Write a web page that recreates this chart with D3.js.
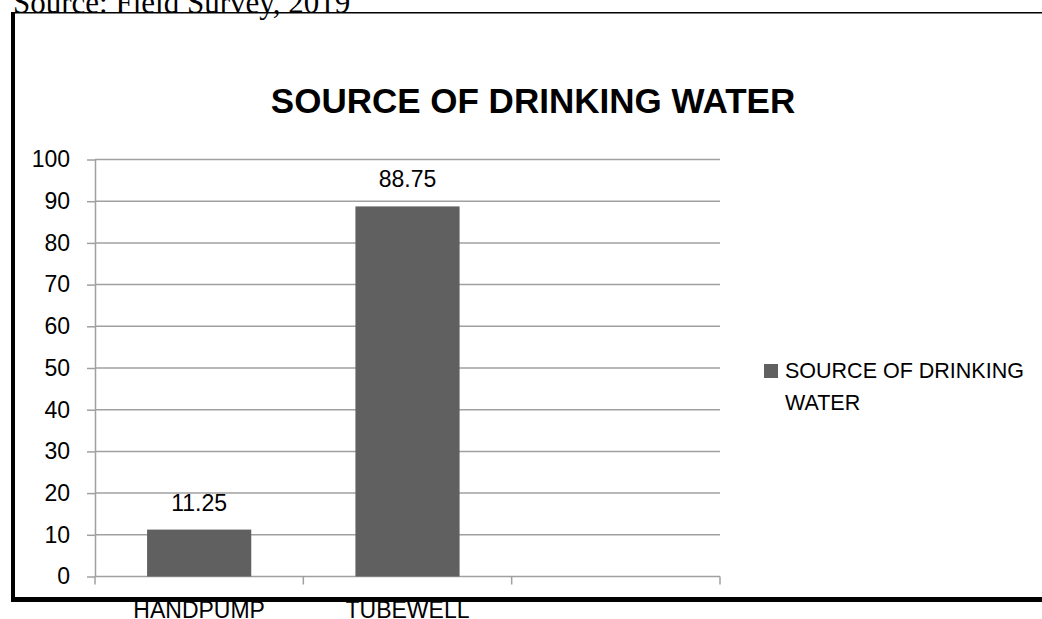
<!DOCTYPE html>
<html>
<head>
<meta charset="utf-8">
<script src="https://cdn.jsdelivr.net/npm/d3@7/dist/d3.min.js"></script>
<style>
  html, body { margin: 0; padding: 0; background: #fff; }
  svg { display: block; }
</style>
</head>
<body>
<svg id="chart" width="1042" height="619"></svg>
<script>
// Chart data
const categories = ["HANDPUMP", "TUBEWELL", ""];
const values = [11.25, 88.75, null];
const yTicks = [0, 10, 20, 30, 40, 50, 60, 70, 80, 90, 100];
const title = "SOURCE OF DRINKING WATER";
const legendLines = ["SOURCE OF DRINKING", "WATER"];
const sourceNote = "Source: Field Survey, 2019";

const svg = d3.select("#chart");
const sans = "'Liberation Sans', Arial, sans-serif";
const barColor = "#606060";
const gridColor = "#a0a0a0";

const plot = { left: 95, right: 720, top: 159.5, bottom: 576.5 };

const x = d3.scaleBand()
  .domain(categories)
  .range([plot.left, plot.right])
  .paddingInner(0.5)
  .paddingOuter(0.25);

const y = d3.scaleLinear()
  .domain([0, 100])
  .range([plot.bottom, plot.top]);

// Source note (partly cut by the top edge)
svg.append("text")
  .attr("x", 13).attr("y", 13)
  .attr("font-family", "'Liberation Serif', 'Times New Roman', serif")
  .attr("font-size", 31)
  .attr("fill", "#000")
  .text(sourceNote);

// Frame around the chart
svg.append("line")
  .attr("x1", 11).attr("x2", 1042).attr("y1", 12.75).attr("y2", 12.75)
  .attr("stroke", "#000").attr("stroke-width", 1.5);
svg.append("line")
  .attr("x1", 13).attr("x2", 13).attr("y1", 12).attr("y2", 602)
  .attr("stroke", "#000").attr("stroke-width", 4);
svg.append("line")
  .attr("x1", 11).attr("x2", 1042).attr("y1", 599.5).attr("y2", 599.5)
  .attr("stroke", "#000").attr("stroke-width", 5);

// Title
svg.append("text")
  .attr("x", 533).attr("y", 113)
  .attr("text-anchor", "middle")
  .attr("font-family", sans)
  .attr("font-weight", "bold")
  .attr("font-size", 35)
  .attr("fill", "#000")
  .text(title);

// Horizontal gridlines
svg.append("g")
  .selectAll("line")
  .data(yTicks.filter(d => d > 0))
  .join("line")
  .attr("x1", plot.left).attr("x2", plot.right)
  .attr("y1", d => y(d)).attr("y2", d => y(d))
  .attr("stroke", gridColor).attr("stroke-width", 1.5);

// Y axis
const yAxis = svg.append("g")
  .attr("transform", `translate(${plot.left},0)`)
  .call(d3.axisLeft(y).tickValues(yTicks).tickSize(8).tickPadding(17).tickSizeOuter(0));
yAxis.select(".domain").attr("stroke", gridColor).attr("stroke-width", 1.5);
yAxis.selectAll(".tick line").attr("stroke", gridColor).attr("stroke-width", 1.5);
yAxis.selectAll(".tick text")
  .attr("font-family", sans).attr("font-size", 23).attr("fill", "#000");

// X axis baseline with ticks on the category boundaries
const bounds = d3.range(categories.length + 1).map(i => x.range()[0] + i * x.step());
const xg = svg.append("g");
xg.append("line")
  .attr("x1", plot.left).attr("x2", plot.right)
  .attr("y1", y(0)).attr("y2", y(0))
  .attr("stroke", gridColor).attr("stroke-width", 1.5);
xg.selectAll("line.tick")
  .data(bounds)
  .join("line")
  .attr("class", "tick")
  .attr("x1", d => d).attr("x2", d => d)
  .attr("y1", y(0)).attr("y2", y(0) + 8)
  .attr("stroke", gridColor).attr("stroke-width", 1.5);

// Category labels
svg.append("g")
  .selectAll("text")
  .data(categories)
  .join("text")
  .attr("x", d => x(d) + x.bandwidth() / 2)
  .attr("y", 618)
  .attr("text-anchor", "middle")
  .attr("font-family", sans).attr("font-size", 23).attr("fill", "#000")
  .text(d => d);

// Bars
const barData = categories.map((c, i) => ({ c, v: values[i] })).filter(d => d.v != null);
svg.append("g")
  .selectAll("rect")
  .data(barData)
  .join("rect")
  .attr("x", d => x(d.c))
  .attr("width", x.bandwidth())
  .attr("y", d => y(d.v))
  .attr("height", d => y(0) - y(d.v))
  .attr("fill", barColor);

// Value labels
svg.append("g")
  .selectAll("text")
  .data(barData)
  .join("text")
  .attr("x", d => x(d.c) + x.bandwidth() / 2)
  .attr("y", d => y(d.v) - 19)
  .attr("text-anchor", "middle")
  .attr("font-family", sans).attr("font-size", 23).attr("fill", "#000")
  .text(d => d.v);

// Legend
const lg = svg.append("g").attr("transform", "translate(764,364)");
lg.append("rect").attr("width", 14).attr("height", 14).attr("fill", barColor);
lg.selectAll("text")
  .data(legendLines)
  .join("text")
  .attr("x", 21)
  .attr("y", (d, i) => 14 + i * 32)
  .attr("font-family", sans).attr("font-size", 21.5).attr("fill", "#000")
  .text(d => d);
</script>
</body>
</html>
